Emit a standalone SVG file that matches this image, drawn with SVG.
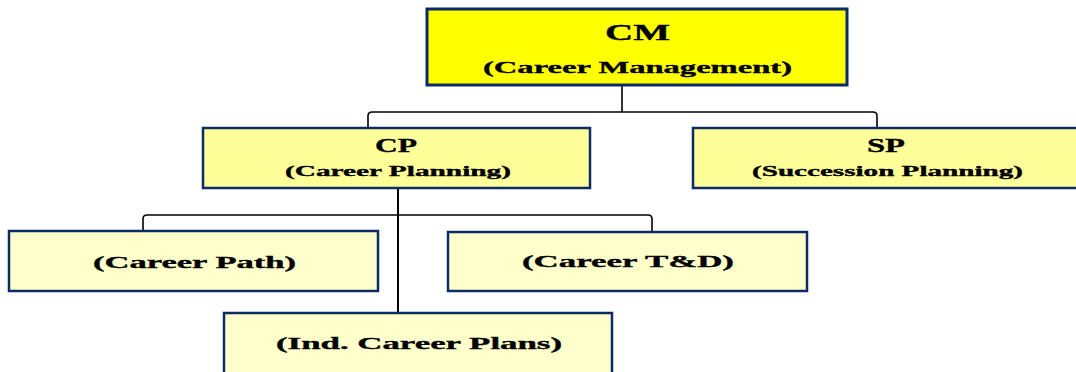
<svg xmlns="http://www.w3.org/2000/svg" width="1076" height="372" viewBox="0 0 1076 372">
<style>
.box{stroke:#0c2a66;stroke-width:2.5}
.top{fill:#ffff00;stroke-width:3}
.mid{fill:#ffff99}
.low{fill:#ffffcc}
text{font-family:"Liberation Serif","Times New Roman",serif;font-weight:bold;fill:#000;stroke:#000;stroke-width:0.35}
.conn{fill:none;stroke:#000;stroke-width:1.6}
</style>
<rect width="1076" height="372" fill="#fff"/>
<g id="connectors">
<path class="conn" d="M622 85 V112"/>
<path class="conn" d="M368 128 V116 Q368 112 372 112 H873 Q877 112 877 116 V128"/>
<path class="conn" d="M398 188 V313" style="stroke-width:2"/>
<path class="conn" d="M143 231 V219 Q143 215 147 215 H648 Q652 215 652 219 V232"/>
</g>
<g id="cm">
<rect class="box top" x="427" y="9" width="420" height="76"/>
<text x="605" y="40" font-size="23" textLength="65" lengthAdjust="spacingAndGlyphs">CM</text>
<text x="483" y="73" font-size="17.5" textLength="309" lengthAdjust="spacingAndGlyphs">(Career Management)</text>
</g>
<g id="cp">
<rect class="box mid" x="203" y="128" width="387" height="60"/>
<text x="375" y="152" font-size="18.5" textLength="42" lengthAdjust="spacingAndGlyphs">CP</text>
<text x="285" y="176" font-size="14.5" textLength="226" lengthAdjust="spacingAndGlyphs">(Career Planning)</text>
</g>
<g id="sp">
<rect class="box mid" x="693" y="128" width="390" height="60"/>
<text x="867" y="152" font-size="18.5" textLength="38" lengthAdjust="spacingAndGlyphs">SP</text>
<text x="752" y="176" font-size="14.5" textLength="271" lengthAdjust="spacingAndGlyphs">(Succession Planning)</text>
</g>
<g id="career-path">
<rect class="box low" x="9" y="231" width="369" height="60"/>
<text x="93" y="268" font-size="17.5" textLength="203" lengthAdjust="spacingAndGlyphs">(Career Path)</text>
</g>
<g id="career-td">
<rect class="box low" x="448" y="232" width="359" height="59"/>
<text x="522" y="267" font-size="17.5" textLength="212" lengthAdjust="spacingAndGlyphs">(Career T&amp;D)</text>
</g>
<g id="ind-career-plans">
<rect class="box low" x="224" y="313" width="388" height="70"/>
<text x="276" y="349" font-size="17.5" textLength="286" lengthAdjust="spacingAndGlyphs">(Ind. Career Plans)</text>
</g>
</svg>
